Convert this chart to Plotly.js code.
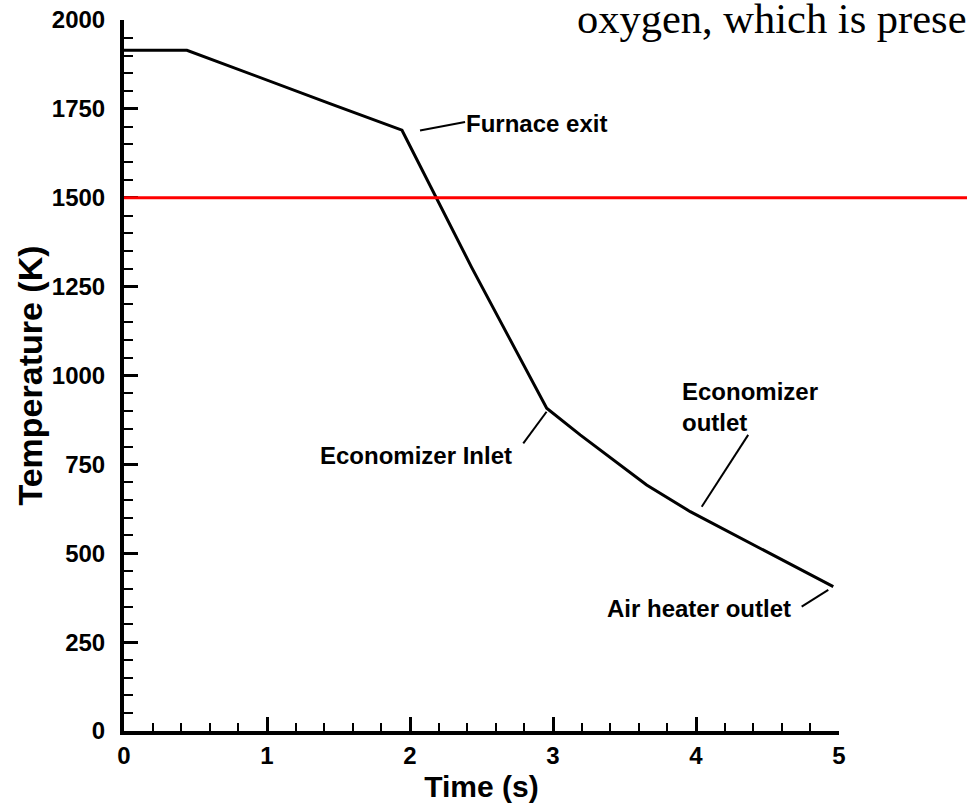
<!DOCTYPE html>
<html>
<head>
<meta charset="utf-8">
<script src="https://cdn.plot.ly/plotly-3.0.1.min.js"></script>
<style>html,body{margin:0;padding:0;background:#fff;}#chart{width:967px;height:804px;}</style>
</head>
<body>
<div id="chart"></div>
<script>
// Data
const times = [0, 0.44, 1.44, 1.944, 2.43, 2.956, 3.19, 3.655, 3.96, 4.96];
const temps = [1915, 1915, 1765, 1690, 1305, 908, 833, 692, 617, 406];

const xTickVals = [0, 1, 2, 3, 4, 5];
const yTickVals = [0, 250, 500, 750, 1000, 1250, 1500, 1750, 2000];

const refLineTemp = 1500;

const labelTexts = ['Furnace exit', 'Economizer Inlet', 'Economizer<br>outlet', 'Air heater outlet'];
const labelX = [2.38, 2.045, 3.888, 4.02];
const labelY = [1710, 776, 911, 346];
const labelAnchor = ['left', 'center', 'left', 'center'];

// leader lines: [x0, y0, x1, y1]
const leaderX0 = [2.07, 2.792, 4.04, 4.739];
const leaderY0 = [1689, 809, 631, 350];
const leaderX1 = [2.385, 2.955, 4.365, 4.925];
const leaderY1 = [1713, 898, 833, 397];

const captionText = 'oxygen, which is prese';

const sans = 'Liberation Sans, Arial, Helvetica, sans-serif';

const annotations = labelTexts.map((t, i) => ({
  x: labelX[i], y: labelY[i], xref: 'x', yref: 'y',
  text: t, showarrow: false, xanchor: labelAnchor[i], yanchor: 'middle', align: 'left',
  font: {family: sans, size: 24, color: '#000', weight: 'bold'}
}));
annotations.push({
  x: 0.6308, y: 1.002, xref: 'paper', yref: 'paper',
  text: captionText, showarrow: false, xanchor: 'left', yanchor: 'middle',
  font: {family: 'Liberation Serif, Times New Roman, serif', size: 42.5, color: '#000'}
});

const shapes = leaderX0.map((x0, i) => ({
  type: 'line', xref: 'x', yref: 'y',
  x0: x0, y0: leaderY0[i], x1: leaderX1[i], y1: leaderY1[i],
  line: {color: '#000', width: 2}
}));
shapes.push({
  type: 'line', xref: 'paper', yref: 'y', x0: 0, x1: 1.2, y0: refLineTemp, y1: refLineTemp,
  line: {color: '#ff0000', width: 3}, layer: 'above'
});

const trace = {
  x: times, y: temps, type: 'scatter', mode: 'lines',
  line: {color: '#000', width: 3}, hoverinfo: 'x+y', showlegend: false
};

const layout = {
  width: 967, height: 804,
  margin: {l: 124, r: 128, t: 20, b: 73},
  paper_bgcolor: '#fff', plot_bgcolor: '#fff',
  showlegend: false,
  xaxis: {
    range: [0, 5], tickvals: xTickVals, ticktext: xTickVals.map(String),
    showgrid: false, zeroline: false, showline: true, linecolor: '#000', linewidth: 4,
    ticks: 'inside', ticklen: 14, tickwidth: 3, tickcolor: '#000',
    minor: {dtick: 0.2, ticks: 'inside', ticklen: 8, tickwidth: 2, tickcolor: '#000', showgrid: false},
    ticklabelstandoff: 0,
    tickfont: {family: sans, size: 24, color: '#000', weight: 'bold'},
    title: {text: 'Time (s)', standoff: 9, font: {family: sans, size: 30, color: '#000', weight: 'bold'}},
    automargin: false, fixedrange: true
  },
  yaxis: {
    range: [0, 2000], tickvals: yTickVals, ticktext: yTickVals.map(String),
    showgrid: false, zeroline: false, showline: true, linecolor: '#000', linewidth: 4,
    ticks: 'inside', ticklen: 14, tickwidth: 3, tickcolor: '#000',
    minor: {dtick: 50, ticks: 'inside', ticklen: 9, tickwidth: 2, tickcolor: '#000', showgrid: false},
    ticklabelstandoff: 10,
    tickfont: {family: sans, size: 24, color: '#000', weight: 'bold'},
    title: {text: 'Temperature (K)', standoff: 0, font: {family: sans, size: 34, color: '#000', weight: 'bold'}},
    automargin: false, fixedrange: true
  },
  annotations: annotations,
  shapes: shapes
};

Plotly.newPlot('chart', [trace], layout, {displayModeBar: false, staticPlot: true});
</script>
</body>
</html>
